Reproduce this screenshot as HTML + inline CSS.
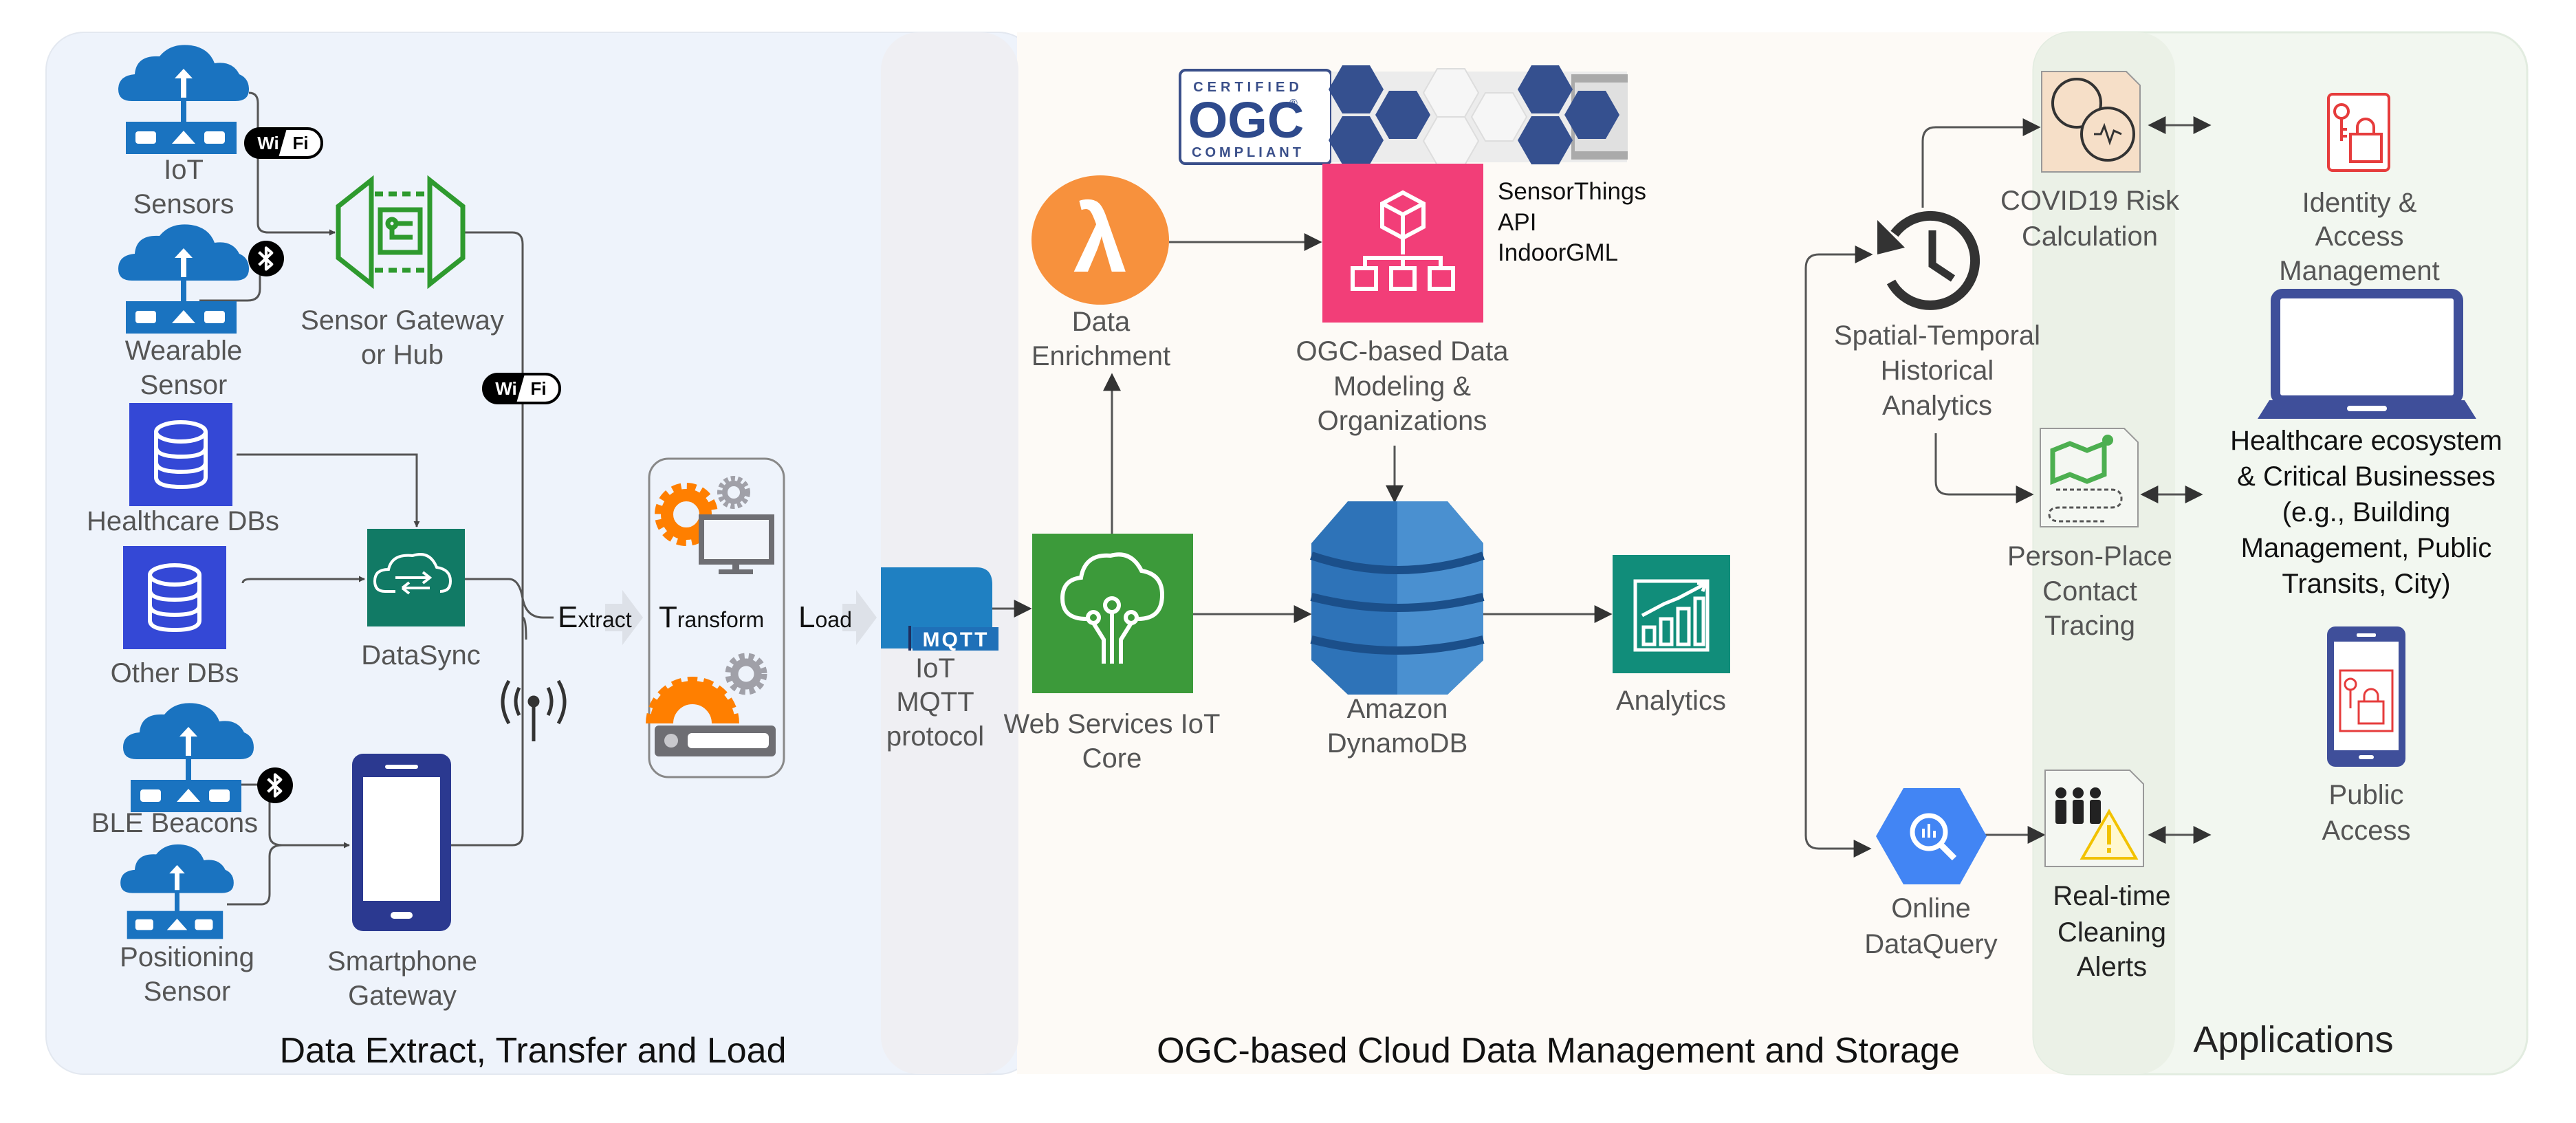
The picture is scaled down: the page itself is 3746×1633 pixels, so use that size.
<!DOCTYPE html>
<html><head><meta charset="utf-8"><style>
html,body{margin:0;padding:0;background:#fff}
svg{display:block}
text{font-family:"Liberation Sans",Arial,sans-serif}
</style></head><body>
<svg width="3746" height="1633" viewBox="0 0 3746 1633" xmlns="http://www.w3.org/2000/svg">
<defs>
<marker id="ar" viewBox="0 0 10 10" refX="9" refY="5" markerWidth="9" markerHeight="9" markerUnits="userSpaceOnUse" orient="auto-start-reverse">
<path d="M0,0 L10,5 L0,10 z" fill="#444"/></marker>
<marker id="a2" viewBox="0 0 10 10" refX="9" refY="5" markerWidth="30" markerHeight="26" markerUnits="userSpaceOnUse" orient="auto-start-reverse">
<path d="M0,0 L10,5 L0,10 z" fill="#333"/></marker>
<symbol id="cloud" viewBox="0 0 190 165">
<path d="M20,85 Q0,85 0,68 Q0,48 24,46 Q26,18 60,20 Q76,0 106,4 Q132,8 140,30 Q166,26 176,46 Q190,52 190,68 Q190,85 170,85 Z" fill="#1a73c0"/>
<path d="M91,80 V52 H82 L95,38 L108,52 H99 V80 Z" fill="#fff"/>
<rect x="91" y="80" width="8" height="36" fill="#1a73c0"/>
<rect x="11" y="115" width="161" height="47" fill="#1a73c0"/>
<rect x="25" y="129" width="30" height="18" rx="4" fill="#fff"/>
<rect x="125" y="129" width="30" height="18" rx="4" fill="#fff"/>
<path d="M78,147 L95,128 L112,147 Z" fill="#fff"/>
</symbol>
<symbol id="db" viewBox="0 0 150 150">
<rect width="150" height="150" fill="#3448d6"/>
<g fill="none" stroke="#fff" stroke-width="6">
<ellipse cx="75" cy="42" rx="36" ry="14"/>
<path d="M39,42 V108 Q39,122 75,122 Q111,122 111,108 V42"/>
<path d="M39,64 Q39,78 75,78 Q111,78 111,64"/>
<path d="M39,86 Q39,100 75,100 Q111,100 111,86"/>
</g></symbol>
<symbol id="bt" viewBox="0 0 50 50">
<circle cx="25" cy="25" r="25" fill="#000"/>
<path d="M15,16 L33,33 L25,40 V10 L33,17 L15,34" fill="none" stroke="#fff" stroke-width="4" stroke-linejoin="round"/>
</symbol>
<symbol id="wifi" viewBox="0 0 115 46">
<rect x="2" y="2" width="111" height="42" rx="21" fill="#fff" stroke="#000" stroke-width="4"/>
<path d="M23,2 H62 L50,44 H23 A21,21 0 0 1 23,2 Z" fill="#000"/>
<text x="35" y="32" font-size="26" font-weight="bold" fill="#fff" text-anchor="middle">Wi</text>
<text x="82" y="32" font-size="26" font-weight="bold" fill="#000" text-anchor="middle">Fi</text>
</symbol>
</defs>

<!-- panels -->
<rect x="67" y="47" width="1440" height="1515" rx="55" fill="#eef3fb" stroke="#e3e8f0" stroke-width="2"/>
<rect x="1479" y="47" width="1520" height="1515" fill="#fdfaf6"/>
<rect x="1281" y="47" width="200" height="1515" rx="55" fill="#efeff3"/>
<rect x="2957" y="47" width="718" height="1515" rx="55" fill="#f2f7f0" stroke="#e2ece0" stroke-width="3"/>
<rect x="2957" y="47" width="206" height="1515" rx="55" fill="#ebf1e7"/>

<!-- connectors left -->
<g fill="none" stroke="#555" stroke-width="3">
<path d="M362,135 Q375,135 375,150 V325 Q375,338 390,338 H487" marker-end="url(#ar)"/>
<path d="M290,437 H360 Q378,437 378,420 V395"/>
<path d="M676,338 H745 Q760,338 760,355 V1212 Q760,1229 745,1229 H656"/>
<path d="M344,661 H606 V766" marker-end="url(#ar)"/>
<path d="M353,848 Q353,842 365,842 H530" marker-end="url(#ar)"/>
<path d="M676,842 H740 Q755,842 760,870 Q765,898 790,898 H805"/>
<path d="M760,898 Q765,898 765,930"/>
<path d="M330,1141 H380 Q392,1141 392,1160 V1214 Q392,1229 410,1229 H508" marker-end="url(#ar)"/>
<path d="M330,1315 H380 Q392,1315 392,1300 V1245 Q392,1229 410,1229"/>
</g>
<!-- ETL chevrons -->
<path d="M880,878 H905 V858 L935,898 L905,938 V918 H880 Z" fill="#dde1e8"/>
<path d="M1225,878 H1245 V858 L1275,898 L1245,938 V918 H1225 Z" fill="#dde1e8"/>

<!-- IoT sensors -->
<use href="#cloud" x="172" y="62" width="190" height="165"/>
<text x="267" y="260" font-size="40" fill="#555" text-anchor="middle">IoT</text>
<text x="267" y="310" font-size="40" fill="#555" text-anchor="middle">Sensors</text>
<use href="#wifi" x="355" y="185" width="115" height="46"/>
<use href="#cloud" x="172" y="323" width="190" height="165"/>
<text x="267" y="523" font-size="40" fill="#555" text-anchor="middle">Wearable</text>
<text x="267" y="573" font-size="40" fill="#555" text-anchor="middle">Sensor</text>
<use href="#bt" x="361" y="350" width="52" height="52"/>

<!-- gateway -->
<g fill="none" stroke="#2e9a2e" stroke-width="7">
<path d="M540,262 L492,300 V375 L540,413 Z"/>
<path d="M625,262 L673,300 V375 L625,413 Z"/>
<path d="M545,282 H620 M545,393 H620" stroke-dasharray="12,8"/>
<rect x="553" y="305" width="58" height="62"/>
<circle cx="570" cy="325" r="6"/><path d="M576,325 H600 M570,331 V345 H600"/>
</g>
<text x="585" y="479" font-size="40" fill="#555" text-anchor="middle">Sensor Gateway</text>
<text x="585" y="529" font-size="40" fill="#555" text-anchor="middle">or Hub</text>
<use href="#wifi" x="701" y="542" width="115" height="46"/>

<!-- DBs -->
<use href="#db" x="188" y="586" width="150" height="150"/>
<text x="266" y="771" font-size="40" fill="#555" text-anchor="middle">Healthcare DBs</text>
<use href="#db" x="179" y="794" width="150" height="150"/>
<text x="254" y="992" font-size="40" fill="#555" text-anchor="middle">Other DBs</text>
<!-- DataSync -->
<rect x="534" y="769" width="142" height="142" fill="#117a65"/>
<g fill="none" stroke="#fff" stroke-width="4">
<path d="M575,860 H560 Q545,860 545,845 Q545,828 565,828 Q570,805 600,808 Q625,800 635,825 Q655,828 655,845 Q655,860 640,860"/>
<path d="M575,840 H625 M615,832 L625,840 L615,848 M585,855 H625 M585,855 L595,847 M585,855 L595,863"/>
</g>
<text x="612" y="966" font-size="40" fill="#555" text-anchor="middle">DataSync</text>

<!-- antenna -->
<g fill="none" stroke="#333" stroke-width="5">
<path d="M776,1078 V1025"/><circle cx="776" cy="1020" r="6" fill="#333"/>
<path d="M755,1000 Q745,1020 755,1040 M797,1000 Q807,1020 797,1040"/>
<path d="M740,990 Q722,1020 740,1052 M812,990 Q830,1020 812,1052"/>
</g>

<!-- BLE / positioning -->
<use href="#cloud" x="179" y="1019" width="190" height="165"/>
<text x="254" y="1210" font-size="40" fill="#555" text-anchor="middle">BLE Beacons</text>
<use href="#bt" x="374" y="1116" width="52" height="52"/>
<use href="#cloud" x="175" y="1225" width="165" height="143"/>
<text x="272" y="1405" font-size="40" fill="#555" text-anchor="middle">Positioning</text>
<text x="272" y="1455" font-size="40" fill="#555" text-anchor="middle">Sensor</text>

<!-- smartphone -->
<rect x="512" y="1096" width="144" height="258" rx="16" fill="#2b3990"/>
<rect x="528" y="1130" width="112" height="180" fill="#fff"/>
<rect x="560" y="1112" width="48" height="6" rx="3" fill="#fff"/>
<rect x="568" y="1326" width="32" height="10" rx="5" fill="#fff"/>
<text x="585" y="1411" font-size="40" fill="#555" text-anchor="middle">Smartphone</text>
<text x="585" y="1461" font-size="40" fill="#555" text-anchor="middle">Gateway</text>

<!-- ETL -->
<text x="811" y="912" fill="#111"><tspan font-size="44">E</tspan><tspan font-size="32">xtract</tspan></text>
<rect x="944" y="667" width="196" height="463" rx="28" fill="none" stroke="#888" stroke-width="3"/>
<text x="958" y="912" fill="#111"><tspan font-size="44">T</tspan><tspan font-size="32">ransform</tspan></text>
<text x="1161" y="912" fill="#111"><tspan font-size="44">L</tspan><tspan font-size="32">oad</tspan></text>
<!-- transform icons -->
<circle cx="1067" cy="716" r="20" fill="none" stroke="#a0a0a8" stroke-width="8" stroke-dasharray="6,4"/>
<circle cx="1067" cy="716" r="13" fill="none" stroke="#a0a0a8" stroke-width="8"/>
<circle cx="998" cy="748" r="40" fill="none" stroke="#ff7f00" stroke-width="12" stroke-dasharray="13,8"/>
<circle cx="998" cy="748" r="28" fill="none" stroke="#ff7f00" stroke-width="18"/>
<rect x="1020" y="752" width="102" height="65" fill="#f1f4fa" stroke="#6e6e73" stroke-width="8"/>
<rect x="1065" y="818" width="10" height="10" fill="#6e6e73"/><rect x="1045" y="828" width="50" height="7" fill="#6e6e73"/>
<circle cx="1085" cy="980" r="26" fill="none" stroke="#a0a0a8" stroke-width="9" stroke-dasharray="8,6"/>
<circle cx="1085" cy="980" r="17" fill="none" stroke="#a0a0a8" stroke-width="11"/>
<path d="M962,1052 A45,45 0 1 1 1052,1052" fill="none" stroke="#ff7f00" stroke-width="34"/>
<path d="M944,1052 A63,63 0 1 1 1070,1052" fill="none" stroke="#ff7f00" stroke-width="10" stroke-dasharray="14,9"/>
<rect x="952" y="1055" width="176" height="45" rx="6" fill="#6e6e73"/>
<circle cx="976" cy="1077" r="10" fill="#c8c8cc"/><rect x="1000" y="1066" width="118" height="22" rx="6" fill="#fff"/>

<!-- MQTT -->
<path d="M1281,825 H1420 Q1443,825 1443,850 V943 H1281 Z" fill="#1f80c2"/>
<rect x="1327" y="912" width="125" height="34" fill="#1f70b8"/>
<rect x="1321" y="910" width="4" height="36" fill="#1f2f60"/>
<text x="1390" y="940" font-size="30" font-weight="bold" fill="#fff" text-anchor="middle" letter-spacing="3">MQTT</text>
<text x="1360" y="985" font-size="40" fill="#555" text-anchor="middle">IoT</text>
<text x="1360" y="1034" font-size="40" fill="#555" text-anchor="middle">MQTT</text>
<text x="1360" y="1084" font-size="40" fill="#555" text-anchor="middle">protocol</text>

<g fill="none" stroke="#555" stroke-width="3">
<path d="M1443,885 H1498" marker-end="url(#a2)"/>
<path d="M1617,776 V545" marker-end="url(#a2)"/>
<path d="M1700,352 H1920" marker-end="url(#a2)"/>
<path d="M2028,648 V729" marker-end="url(#a2)"/>
<path d="M1735,893 H1905" marker-end="url(#a2)"/>
<path d="M2157,893 H2342" marker-end="url(#a2)"/>
</g>

<!-- OGC logo -->
<rect x="1716" y="102" width="220" height="136" rx="8" fill="#fff" stroke="#3a4f8a" stroke-width="4"/>
<rect x="1936" y="104" width="430" height="132" fill="#ececec"/>
<rect x="2285" y="108" width="82" height="124" fill="#aaa"/><rect x="2290" y="120" width="77" height="100" fill="#e0e0e0"/>
<text x="1815" y="133" font-family="Liberation Serif" font-size="20" font-weight="bold" fill="#3a4f8a" text-anchor="middle" letter-spacing="6">CERTIFIED</text>
<text x="1812" y="200" font-family="Liberation Serif" font-size="74" font-weight="bold" fill="#2e4a8c" text-anchor="middle">OGC</text>
<text x="1875" y="155" font-family="Liberation Serif" font-size="16" fill="#2e4a8c">®</text>
<text x="1815" y="228" font-family="Liberation Serif" font-size="20" font-weight="bold" fill="#3a4f8a" text-anchor="middle" letter-spacing="5">COMPLIANT</text>
<g fill="#f6f6f6" stroke="#ddd" stroke-width="2">
<path d="M2070,135 l20,-35 h40 l20,35 l-20,35 h-40 z"/><path d="M2070,205 l20,-35 h40 l20,35 l-20,35 h-40 z"/>
<path d="M2140,170 l20,-35 h40 l20,35 l-20,35 h-40 z"/>
</g>
<g fill="#35508f">
<path d="M1932,130 l20,-35 h40 l20,35 l-20,35 h-40 z"/>
<path d="M2000,167 l20,-35 h40 l20,35 l-20,35 h-40 z"/>
<path d="M1932,204 l20,-35 h40 l20,35 l-20,35 h-40 z"/>
<path d="M2207,130 l20,-35 h40 l20,35 l-20,35 h-40 z"/>
<path d="M2275,167 l20,-35 h40 l20,35 l-20,35 h-40 z"/>
<path d="M2207,204 l20,-35 h40 l20,35 l-20,35 h-40 z"/>
</g>

<!-- lambda -->
<ellipse cx="1600" cy="349" rx="100" ry="94" fill="#f7913d"/>
<text x="1600" y="395" font-family="DejaVu Sans" font-size="140" font-weight="bold" fill="#fff" text-anchor="middle">λ</text>
<text x="1601" y="481" font-size="40" fill="#555" text-anchor="middle">Data</text>
<text x="1601" y="531" font-size="40" fill="#555" text-anchor="middle">Enrichment</text>

<!-- OGC pink -->
<rect x="1923" y="238" width="234" height="231" fill="#f23e78"/>
<g fill="none" stroke="#fff" stroke-width="6">
<path d="M2040,280 L2070,296 V330 L2040,346 L2010,330 V296 Z M2010,296 L2040,312 L2070,296 M2040,312 V346"/>
<path d="M2040,346 V370 M1985,390 V375 H2095 V390 M2040,375 V390"/>
<rect x="1967" y="390" width="34" height="30"/><rect x="2023" y="390" width="34" height="30"/><rect x="2079" y="390" width="34" height="30"/>
</g>
<text x="2178" y="290" font-size="35" fill="#111">SensorThings</text>
<text x="2178" y="335" font-size="35" fill="#111">API</text>
<text x="2178" y="379" font-size="35" fill="#111">IndoorGML</text>
<text x="2039" y="524" font-size="40" fill="#555" text-anchor="middle">OGC-based Data</text>
<text x="2039" y="575" font-size="40" fill="#555" text-anchor="middle">Modeling &amp;</text>
<text x="2039" y="625" font-size="40" fill="#555" text-anchor="middle">Organizations</text>

<!-- IoT Core -->
<rect x="1501" y="776" width="234" height="232" fill="#3c9a3a"/>
<g fill="none" stroke="#fff" stroke-width="6">
<path d="M1580,900 Q1545,900 1545,870 Q1545,843 1572,840 Q1578,805 1615,808 Q1645,800 1660,830 Q1690,835 1690,865 Q1690,900 1655,900"/>
<circle cx="1617" cy="880" r="10"/><circle cx="1590" cy="898" r="8"/><circle cx="1645" cy="898" r="8"/>
<path d="M1617,890 V965 M1590,906 L1605,930 V965 M1645,906 L1630,930 V965"/>
</g>
<text x="1617" y="1066" font-size="40" fill="#555" text-anchor="middle">Web Services IoT</text>
<text x="1617" y="1116" font-size="40" fill="#555" text-anchor="middle">Core</text>

<!-- DynamoDB -->
<g>
<path d="M1960,729 H2105 L2157,790 V960 L2105,1010 H1960 L1907,960 V790 Z" fill="#2e73b8"/>
<path d="M2032,729 H2105 L2157,790 V960 L2105,1010 H2032 Z" fill="#4a90d0"/>
<path d="M1907,808 Q2032,850 2157,808" fill="none" stroke="#1b4f8a" stroke-width="12"/>
<path d="M1907,868 Q2032,900 2157,868" fill="none" stroke="#1b4f8a" stroke-width="12"/>
<path d="M1907,930 Q2032,962 2157,930" fill="none" stroke="#1b4f8a" stroke-width="12"/>
</g>
<text x="2032" y="1044" font-size="40" fill="#555" text-anchor="middle">Amazon</text>
<text x="2032" y="1094" font-size="40" fill="#555" text-anchor="middle">DynamoDB</text>

<!-- Analytics -->
<rect x="2345" y="807" width="171" height="172" fill="#118d7a"/>
<g fill="none" stroke="#fff" stroke-width="5">
<rect x="2378" y="845" width="105" height="100"/>
<rect x="2390" y="912" width="16" height="25"/><rect x="2415" y="900" width="16" height="37"/><rect x="2440" y="885" width="16" height="52"/><rect x="2465" y="870" width="12" height="67"/>
<path d="M2388,895 L2420,878 L2440,870 L2478,850 M2468,848 L2480,849 L2476,860"/>
</g>
<text x="2430" y="1032" font-size="40" fill="#555" text-anchor="middle">Analytics</text>

<!-- section titles -->
<text x="775" y="1545" font-size="52" fill="#111" text-anchor="middle">Data Extract, Transfer and Load</text>
<text x="2266" y="1545" font-size="52" fill="#111" text-anchor="middle">OGC-based Cloud Data Management and Storage</text>
<text x="3335" y="1530" font-size="54" fill="#222" text-anchor="middle">Applications</text>

<!-- right connectors -->
<g fill="none" stroke="#555" stroke-width="3">
<path d="M2721,370 H2645 Q2626,370 2626,390 V1215 Q2626,1234 2645,1234 H2719" marker-start="url(#a2)" marker-end="url(#a2)"/>
<path d="M2796,302 V205 Q2796,185 2815,185 H2965" marker-end="url(#a2)"/>
<path d="M2815,630 V700 Q2815,719 2834,719 H2955" marker-end="url(#a2)"/>
<path d="M2878,1214 H2972" marker-end="url(#a2)"/>
<path d="M3126,182 H3213" marker-start="url(#a2)" marker-end="url(#a2)"/>
<path d="M3115,719 H3201" marker-start="url(#a2)" marker-end="url(#a2)"/>
<path d="M3126,1214 H3213" marker-start="url(#a2)" marker-end="url(#a2)"/>
</g>

<!-- clock -->
<path d="M2755,340 A65,65 0 1 1 2750,410" fill="none" stroke="#333" stroke-width="14"/>
<path d="M2730,320 L2770,360 L2730,370 Z" fill="#333"/>
<path d="M2810,335 V385 L2840,405" fill="none" stroke="#333" stroke-width="11"/>
<text x="2817" y="501" font-size="40" fill="#555" text-anchor="middle">Spatial-Temporal</text>
<text x="2817" y="552" font-size="40" fill="#555" text-anchor="middle">Historical</text>
<text x="2817" y="603" font-size="40" fill="#555" text-anchor="middle">Analytics</text>

<!-- COVID doc -->
<path d="M2969,104 H3092 L3112,124 V250 H2969 Z" fill="#f6dfc8" stroke="#999" stroke-width="2"/>
<circle cx="3020" cy="150" r="35" fill="none" stroke="#333" stroke-width="4"/>
<circle cx="3065" cy="195" r="38" fill="#f6dfc8" stroke="#333" stroke-width="4"/>
<path d="M3045,195 L3055,195 L3060,183 L3068,207 L3074,190 L3085,195" fill="none" stroke="#333" stroke-width="3"/>
<text x="3039" y="305" font-size="40" fill="#555" text-anchor="middle">COVID19 Risk</text>
<text x="3039" y="357" font-size="40" fill="#555" text-anchor="middle">Calculation</text>

<!-- identity -->
<rect x="3386" y="137" width="88" height="111" rx="6" fill="#fff" stroke="#e63c3c" stroke-width="4"/>
<g fill="none" stroke="#e63c3c" stroke-width="4">
<circle cx="3405" cy="162" r="10"/><path d="M3405,172 V205 M3405,188 H3413 M3405,198 H3413"/>
<rect x="3418" y="195" width="45" height="40"/><path d="M3428,195 V185 A12,12 0 0 1 3452,185 V195"/>
</g>
<text x="3431" y="308" font-size="40" fill="#555" text-anchor="middle">Identity &amp;</text>
<text x="3431" y="357" font-size="40" fill="#555" text-anchor="middle">Access</text>
<text x="3431" y="407" font-size="40" fill="#555" text-anchor="middle">Management</text>

<!-- person-place doc -->
<path d="M2967,623 H3089 L3109,643 V766 H2967 Z" fill="#f4f7f2" stroke="#999" stroke-width="2"/>
<path d="M2985,655 L3010,645 L3035,655 L3060,645 V690 L3035,700 L3010,690 L2985,700 Z" fill="none" stroke="#4caf50" stroke-width="7"/>
<circle cx="3065" cy="640" r="8" fill="#4caf50"/>
<path d="M2990,712 H3070 Q3085,712 3085,725 Q3085,738 3070,738 H2995 Q2980,738 2980,748 Q2980,758 2995,758 H3060" fill="none" stroke="#555" stroke-width="3" stroke-dasharray="6,4"/>
<text x="3039" y="822" font-size="40" fill="#555" text-anchor="middle">Person-Place</text>
<text x="3039" y="873" font-size="40" fill="#555" text-anchor="middle">Contact</text>
<text x="3039" y="923" font-size="40" fill="#555" text-anchor="middle">Tracing</text>

<!-- laptop -->
<rect x="3309" y="427" width="266" height="155" rx="10" fill="#fff" stroke="#3f4f9a" stroke-width="14"/>
<path d="M3283,609 L3300,582 H3584 L3601,609 Z" fill="#3f4f9a"/>
<rect x="3413" y="590" width="58" height="8" rx="4" fill="#fff"/>
<text x="3441" y="654" font-size="40" fill="#111" text-anchor="middle">Healthcare ecosystem</text>
<text x="3441" y="706" font-size="40" fill="#111" text-anchor="middle">&amp; Critical Businesses</text>
<text x="3441" y="758" font-size="40" fill="#111" text-anchor="middle">(e.g., Building</text>
<text x="3441" y="810" font-size="40" fill="#111" text-anchor="middle">Management, Public</text>
<text x="3441" y="862" font-size="40" fill="#111" text-anchor="middle">Transits, City)</text>

<!-- public phone -->
<rect x="3384" y="911" width="114" height="204" rx="12" fill="#3f4f9a"/>
<rect x="3394" y="933" width="94" height="158" fill="#fff"/>
<rect x="3427" y="921" width="28" height="5" rx="2" fill="#fff"/>
<rect x="3430" y="1098" width="22" height="6" rx="3" fill="#fff"/>
<rect x="3403" y="975" width="76" height="88" fill="#fff" stroke="#e63c3c" stroke-width="3"/>
<g fill="none" stroke="#e63c3c" stroke-width="3">
<circle cx="3418" cy="995" r="8"/><path d="M3418,1003 V1030"/>
<rect x="3430" y="1020" width="36" height="32"/><path d="M3438,1020 V1012 A10,10 0 0 1 3458,1012 V1020"/>
</g>
<text x="3441" y="1169" font-size="40" fill="#555" text-anchor="middle">Public</text>
<text x="3441" y="1221" font-size="40" fill="#555" text-anchor="middle">Access</text>

<!-- dataquery -->
<path d="M2768,1146 H2850 L2889,1216 L2850,1286 H2768 L2728,1216 Z" fill="#4285f4"/>
<circle cx="2805" cy="1210" r="24" fill="none" stroke="#fff" stroke-width="7"/>
<path d="M2822,1228 L2842,1248" stroke="#fff" stroke-width="9"/>
<path d="M2797,1218 V1205 M2805,1218 V1198 M2813,1218 V1208" stroke="#fff" stroke-width="4"/>
<text x="2808" y="1334" font-size="40" fill="#555" text-anchor="middle">Online</text>
<text x="2808" y="1386" font-size="40" fill="#555" text-anchor="middle">DataQuery</text>

<!-- alerts doc -->
<path d="M2974,1120 H3097 L3117,1140 V1260 H2974 Z" fill="#f4f7f2" stroke="#999" stroke-width="2"/>
<g fill="#222">
<circle cx="2997" cy="1153" r="8"/><rect x="2989" y="1163" width="16" height="35" rx="3"/>
<circle cx="3022" cy="1153" r="8"/><rect x="3014" y="1163" width="16" height="35" rx="3"/>
<circle cx="3047" cy="1153" r="8"/><rect x="3039" y="1163" width="16" height="35" rx="3"/>
</g>
<path d="M3067,1180 L3106,1248 H3028 Z" fill="#fff8d0" stroke="#f2c200" stroke-width="4"/>
<rect x="3064" y="1200" width="6" height="28" fill="#f2c200"/><rect x="3064" y="1233" width="6" height="7" fill="#f2c200"/>
<text x="3071" y="1316" font-size="40" fill="#222" text-anchor="middle">Real-time</text>
<text x="3071" y="1369" font-size="40" fill="#222" text-anchor="middle">Cleaning</text>
<text x="3071" y="1419" font-size="40" fill="#222" text-anchor="middle">Alerts</text>
</svg>
</body></html>
